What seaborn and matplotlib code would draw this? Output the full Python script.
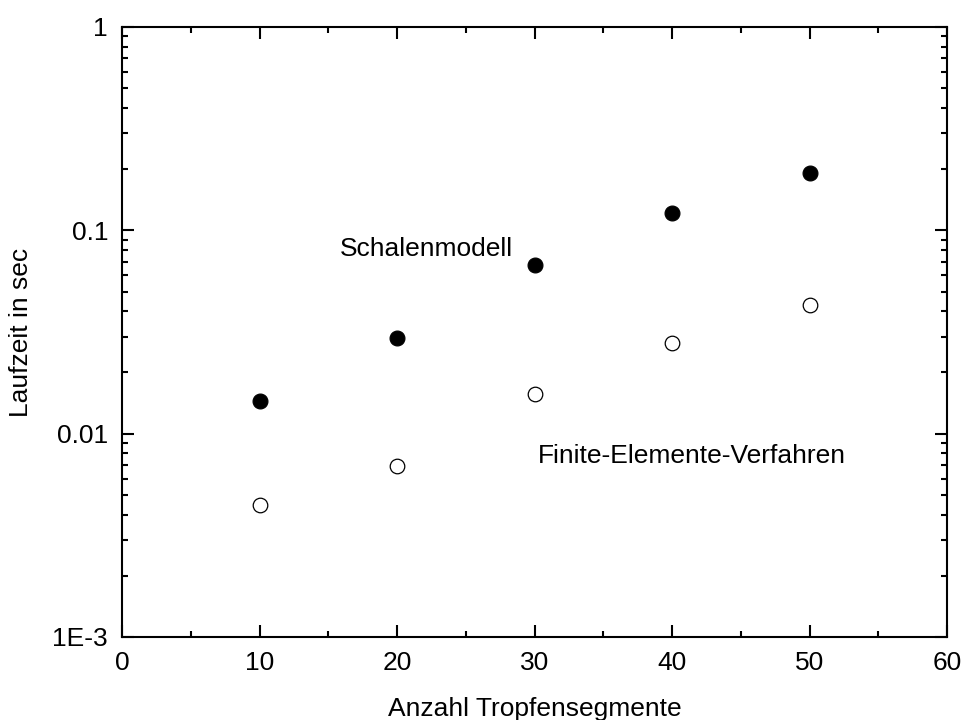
import matplotlib
matplotlib.use("Agg")
import matplotlib.pyplot as plt
import seaborn as sns
import pandas as pd
from matplotlib.ticker import FixedLocator, LogLocator, FuncFormatter, MultipleLocator, NullFormatter

segments = [10, 20, 30, 40, 50]
schalenmodell = [0.0145, 0.0295, 0.0675, 0.1217, 0.191]
finite_elemente = [0.00446, 0.00693, 0.01566, 0.0279, 0.0429]
ytick_vals = [0.001, 0.01, 0.1, 1]
ytick_labels = ["1E-3", "0.01", "0.1", "1"]

sns.set_theme(style="ticks")
plt.rcParams['font.family'] = ['Liberation Sans', 'DejaVu Sans']

FS = 19

fig = plt.figure(figsize=(9.65, 7.2), dpi=100)
ax = fig.add_axes([122/965, 1-637/720, (947-122)/965, (637-27)/720])

df1 = pd.DataFrame({"x": segments, "y": schalenmodell})
df2 = pd.DataFrame({"x": segments, "y": finite_elemente})
sns.scatterplot(data=df1, x="x", y="y", ax=ax, color="black", edgecolor="black",
                s=115, linewidth=0.8, zorder=3)
sns.scatterplot(data=df2, x="x", y="y", ax=ax, facecolor="white", edgecolor="black",
                s=110, linewidth=0.9, zorder=3)

ax.set_yscale("log")
ax.set_xlim(0, 60)
ax.set_ylim(1e-3, 1)
ax.xaxis.set_major_locator(MultipleLocator(10))
ax.xaxis.set_minor_locator(MultipleLocator(5))
ax.yaxis.set_major_locator(FixedLocator(ytick_vals))
ax.yaxis.set_major_formatter(FuncFormatter(lambda v, p: dict(zip(ytick_vals, ytick_labels)).get(v, "")))
ax.yaxis.set_minor_locator(LogLocator(base=10, subs=range(2, 10)))
ax.yaxis.set_minor_formatter(NullFormatter())

for s in ax.spines.values():
    s.set_visible(True)
    s.set_linewidth(1.5)
    s.set_color("black")

ax.tick_params(which="both", direction="in", top=True, right=True, width=1.5, color="black",
               labelsize=FS, labelcolor="black", pad=10)
ax.tick_params(which="major", length=8.5)
ax.tick_params(which="minor", length=4.5)

ax.set_xlabel("Anzahl Tropfensegmente", fontsize=FS, labelpad=16, color="black")
ax.set_ylabel("Laufzeit in sec", fontsize=FS, labelpad=14, color="black")

ax.text(15.85, 0.0748, "Schalenmodell", fontsize=FS, ha="left", va="baseline", color="black")
ax.text(30.25, 0.00716, "Finite-Elemente-Verfahren", fontsize=FS, ha="left", va="baseline", color="black")

ax.grid(False)
fig.savefig("out.png", dpi=100, facecolor="white")
